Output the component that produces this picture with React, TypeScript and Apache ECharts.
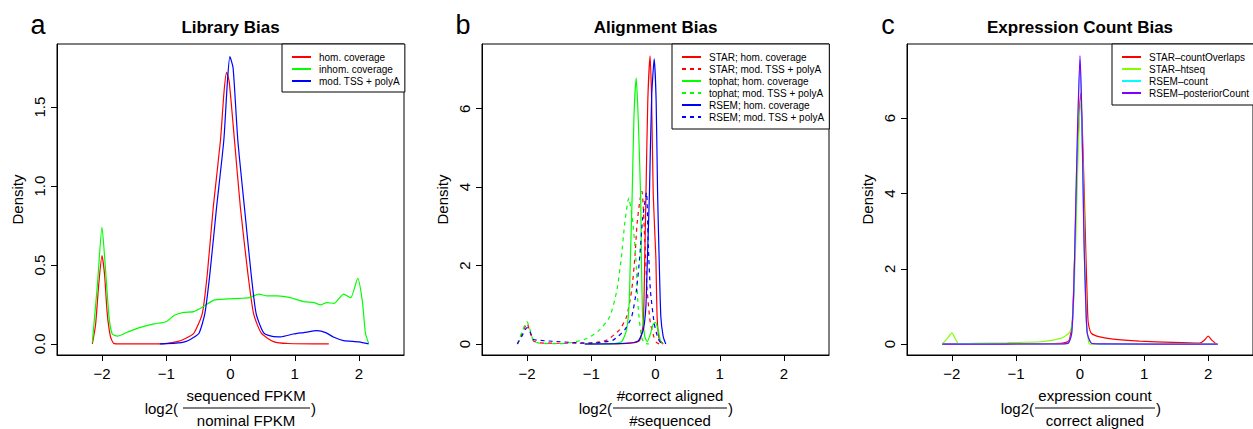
import React, { useEffect, useRef } from "react";
import * as echarts from "echarts";

// ---------- data ----------
const X_TICKS = [-2, -1, 0, 1, 2];
const A_Y_TICKS = [0, 0.5, 1, 1.5];
const B_Y_TICKS = [0, 2, 4, 6];
const C_Y_TICKS = [0, 2, 4, 6];

const TITLES = ["Library Bias", "Alignment Bias", "Expression Count Bias"];
const LETTERS = ["a", "b", "c"];
const NUMERATORS = ["sequenced FPKM", "#correct aligned", "expression count"];
const DENOMINATORS = ["nominal FPKM", "#sequenced", "correct aligned"];

// Panel a: Library Bias
const libHom = [[-2.15,0],[-2.1,0.12],[-2.05,0.38],[-2.0,0.56],[-1.96,0.44],[-1.92,0.2],[-1.87,0.05],[-1.82,0.005],[-1.7,0],[-1.1,0],[-0.83,0.015],[-0.7,0.035],[-0.57,0.068],[-0.44,0.19],[-0.36,0.447],[-0.27,0.86],[-0.156,1.29],[-0.1,1.6],[-0.06,1.72],[-0.02,1.66],[0.062,1.29],[0.155,0.86],[0.27,0.447],[0.36,0.19],[0.48,0.068],[0.67,0.015],[0.9,0.003],[1.53,0]];
const libInhom = [[-2.15,0.01],[-2.07,0.38],[-2.0,0.74],[-1.95,0.5],[-1.89,0.17],[-1.84,0.063],[-1.76,0.05],[-1.61,0.074],[-1.4,0.105],[-1.19,0.127],[-1.0,0.141],[-0.88,0.18],[-0.73,0.2],[-0.57,0.205],[-0.41,0.24],[-0.26,0.278],[-0.05,0.285],[0.16,0.289],[0.29,0.293],[0.44,0.316],[0.57,0.304],[0.73,0.304],[0.93,0.293],[1.14,0.268],[1.3,0.262],[1.4,0.247],[1.5,0.262],[1.61,0.257],[1.76,0.316],[1.87,0.293],[1.98,0.416],[2.05,0.278],[2.1,0.068],[2.15,0.004]];
const libMod = [[-1.1,0],[-0.85,0.005],[-0.7,0.015],[-0.6,0.035],[-0.49,0.068],[-0.4,0.19],[-0.32,0.447],[-0.218,0.86],[-0.104,1.29],[-0.05,1.65],[-0.01,1.82],[0.04,1.75],[0.114,1.29],[0.218,0.86],[0.32,0.447],[0.4,0.19],[0.52,0.068],[0.67,0.046],[0.78,0.045],[0.98,0.063],[1.14,0.072],[1.35,0.084],[1.48,0.072],[1.61,0.042],[1.76,0.021],[2.0,0.013],[2.15,0]];

// Panel b: Alignment Bias
const starHom = [[-1.1,0],[-0.6,0.005],[-0.35,0.03],[-0.245,0.1],[-0.19,0.53],[-0.167,2.23],[-0.15,3.67],[-0.12,6.2],[-0.084,7.35],[-0.06,6.2],[-0.035,3.8],[0.005,2.23],[0.025,0.7],[0.056,0.14],[0.12,0]];
const starMod = [[-2.15,0],[-2.08,0.25],[-2.0,0.52],[-1.95,0.3],[-1.9,0.08],[-1.8,0.03],[-1.5,0.02],[-1.2,0.02],[-0.97,0.03],[-0.76,0.1],[-0.56,0.36],[-0.45,0.7],[-0.37,1.38],[-0.32,2.23],[-0.286,3.08],[-0.24,3.7],[-0.21,3.89],[-0.167,2.65],[-0.13,1.38],[-0.08,0.53],[-0.026,0.19],[0.015,0.04],[0.06,0]];
const tophatHom = [[-1.1,0],[-0.71,0.005],[-0.53,0.06],[-0.45,0.36],[-0.41,1.04],[-0.39,2.23],[-0.365,3.67],[-0.335,5.8],[-0.3,6.79],[-0.27,5.8],[-0.23,3.67],[-0.22,2.23],[-0.2,0.7],[-0.167,0.19],[-0.13,0.06],[-0.08,0.25],[-0.037,0.5],[0,0.55],[0.04,0.36],[0.08,0.06],[0.11,0]];
const tophatMod = [[-2.15,0],[-2.08,0.3],[-2.0,0.57],[-1.95,0.35],[-1.9,0.08],[-1.8,0.02],[-1.5,0.01],[-1.29,0.04],[-1.07,0.14],[-0.87,0.36],[-0.71,0.7],[-0.6,1.38],[-0.53,2.23],[-0.478,3.09],[-0.416,3.72],[-0.36,3.2],[-0.307,2.23],[-0.27,0.95],[-0.22,0.19],[-0.17,0.02],[-0.1,0]];
const rsemHom = [[-1.1,0],[-0.45,0.02],[-0.27,0.08],[-0.19,0.36],[-0.15,0.95],[-0.125,2.23],[-0.095,3.8],[-0.06,6.3],[-0.02,7.27],[0.01,6.2],[0.033,3.8],[0.056,2.23],[0.083,0.7],[0.12,0.19],[0.16,0]];
const rsemMod = [[-2.15,0],[-2.08,0.2],[-2.0,0.42],[-1.95,0.3],[-1.9,0.12],[-1.85,0.1],[-1.6,0.07],[-1.3,0.04],[-1.02,0.02],[-0.9,0.03],[-0.66,0.1],[-0.48,0.36],[-0.37,0.7],[-0.296,1.38],[-0.245,2.23],[-0.2,3.2],[-0.14,3.86],[-0.115,2.65],[-0.08,1.38],[-0.02,0.53],[0.04,0.14],[0.09,0.02],[0.13,0]];

// Panel c: Expression Count Bias
const starCountOverlaps = [[-2.15,0],[-1.5,0.002],[-0.8,0.005],[-0.4,0.01],[-0.25,0.03],[-0.17,0.1],[-0.12,0.6],[-0.08,2.5],[-0.04,5.0],[0.01,6.67],[0.05,5.0],[0.09,2.5],[0.12,0.8],[0.135,0.5],[0.18,0.28],[0.31,0.19],[0.52,0.13],[0.93,0.08],[1.45,0.045],[1.87,0.027],[1.94,0.1],[2.0,0.21],[2.06,0.1],[2.13,0]];
const starHtseq = [[-2.15,0],[-2.07,0.15],[-2.0,0.3],[-1.94,0.12],[-1.9,0.01],[-1.66,0.018],[-1.14,0.035],[-0.62,0.062],[-0.42,0.106],[-0.26,0.18],[-0.156,0.33],[-0.11,0.8],[-0.07,2.5],[-0.03,5.0],[0.01,6.49],[0.05,4.5],[0.08,2.0],[0.1,0.6],[0.13,0.1],[0.156,0],[2.15,0]];
const rsemCount = [[-2.15,0],[-0.3,0.005],[-0.18,0.03],[-0.13,0.28],[-0.1,1.2],[-0.078,2.77],[-0.04,5.5],[0,7.55],[0.03,5.8],[0.062,2.77],[0.09,1.0],[0.114,0.28],[0.18,0.02],[0.3,0.005],[2.15,0]];
const rsemPosterior = [[-2.15,0],[-0.3,0.005],[-0.18,0.03],[-0.13,0.28],[-0.1,1.3],[-0.078,2.77],[-0.04,5.6],[0,7.66],[0.03,6.0],[0.062,2.77],[0.09,1.1],[0.114,0.28],[0.18,0.02],[0.3,0.005],[2.15,0]];

const FONT = "'Liberation Sans', Arial, Helvetica, sans-serif";

const GRIDS = [
  { left: 57, top: 44, width: 347, height: 311 },
  { left: 482, top: 44, width: 347, height: 311 },
  { left: 907, top: 44, width: 346, height: 311 },
];
const Y_RANGES = [
  [-0.07, 1.9],
  [-0.28, 7.65],
  [-0.29, 7.97],
];

const minus = (v: number) => (v < 0 ? "\u2212" + Math.abs(v) : String(v));

function mkSeries(name: string, data: number[][], color: string, idx: number, dashed = false) {
  return {
    name,
    type: "line",
    xAxisIndex: idx,
    yAxisIndex: idx,
    data,
    symbol: "none",
    showSymbol: false,
    smooth: 0.2,
    itemStyle: { color },
    lineStyle: { color, width: 1.2, type: dashed ? [4, 4] : "solid" },
    emphasis: { disabled: true },
  };
}

export default function App() {
  const ref = useRef<HTMLDivElement>(null);
  useEffect(() => {
    document.body.style.margin = "0";
    const chart = echarts.init(ref.current!, undefined, { renderer: "svg" });

    const yTicks = [A_Y_TICKS, B_Y_TICKS, C_Y_TICKS];
    const xAxis = GRIDS.map((_, i) => ({
      type: "value",
      gridIndex: i,
      min: -2.7,
      max: 2.7,
      axisLine: { show: true, onZero: false, lineStyle: { color: "#000", width: 1 } },
      axisTick: { show: true, customValues: X_TICKS, length: 6, lineStyle: { color: "#000" } },
      axisLabel: {
        customValues: X_TICKS,
        formatter: (v: number) => minus(v),
        fontSize: 15,
        color: "#000",
        fontFamily: FONT,
        margin: 11,
      },
      splitLine: { show: false },
    }));
    const yAxis = GRIDS.map((_, i) => ({
      type: "value",
      gridIndex: i,
      min: Y_RANGES[i][0],
      max: Y_RANGES[i][1],
      name: "Density",
      nameLocation: "middle",
      nameRotate: 90,
      nameGap: 32,
      nameTextStyle: { fontSize: 15, color: "#000", fontFamily: FONT },
      axisLine: { show: true, onZero: false, lineStyle: { color: "#000", width: 1 } },
      axisTick: { show: true, customValues: yTicks[i], length: 6, lineStyle: { color: "#000" } },
      axisLabel: {
        customValues: yTicks[i],
        formatter: (v: number) => (i === 0 ? v.toFixed(1) : String(v)),
        rotate: 90,
        fontSize: 15,
        color: "#000",
        fontFamily: FONT,
        margin: 10,
      },
      splitLine: { show: false },
    }));

    const legendBase = {
      orient: "vertical",
      itemWidth: 19,
      itemHeight: 12,
      itemGap: 0,
      borderColor: "#000",
      borderWidth: 1,
      borderRadius: 0,
      backgroundColor: "#fff",
      selectedMode: false,
      itemStyle: { color: "rgba(0,0,0,0)", borderColor: "rgba(0,0,0,0)", borderWidth: 0, opacity: 0 },
      textStyle: { fontSize: 10, color: "#000", fontFamily: FONT, lineHeight: 12, padding: [0, 0, 0, 3] },
    };

    const graphics: any[] = [];
    const fracGeom = [
      { logRight: 178, cx: 246, l1: 183, l2: 310 },
      { logRight: 612, cx: 670, l1: 613, l2: 727 },
      { logRight: 1034, cx: 1095, l1: 1035, l2: 1155 },
    ];
    GRIDS.forEach((g, i) => {
      const f = fracGeom[i];
      graphics.push(
        { type: "text", x: g.left - 19, y: 25, style: { text: LETTERS[i], font: `27px ${FONT}`, fill: "#000", textAlign: "center", textVerticalAlign: "middle" } },
        { type: "text", x: g.left + g.width / 2, y: 27, style: { text: TITLES[i], font: `bold 17px ${FONT}`, fill: "#000", textAlign: "center", textVerticalAlign: "middle" } },
        { type: "text", x: f.logRight, y: 408, style: { text: "log2(", font: `15px ${FONT}`, fill: "#000", textAlign: "right", textVerticalAlign: "middle" } },
        { type: "text", x: f.cx, y: 395, style: { text: NUMERATORS[i], font: `15px ${FONT}`, fill: "#000", textAlign: "center", textVerticalAlign: "middle" } },
        { type: "line", shape: { x1: f.l1, y1: 408, x2: f.l2, y2: 408 }, style: { stroke: "#000", lineWidth: 1 } },
        { type: "text", x: f.cx, y: 420, style: { text: DENOMINATORS[i], font: `15px ${FONT}`, fill: "#000", textAlign: "center", textVerticalAlign: "middle" } },
        { type: "text", x: f.l2 + 1, y: 408, style: { text: ")", font: `15px ${FONT}`, fill: "#000", textAlign: "left", textVerticalAlign: "middle" } }
      );
    });

    chart.setOption({
      animation: false,
      backgroundColor: "#fff",
      grid: GRIDS.map((g) => ({ ...g, show: true, borderColor: "#000", borderWidth: 1, containLabel: false })),
      xAxis,
      yAxis,
      legend: [
        { ...legendBase, left: 282, top: 44, padding: [7, 5, 5, 9], data: ["hom. coverage", "inhom. coverage", "mod. TSS + polyA"] },
        {
          ...legendBase,
          left: 672,
          top: 44,
          padding: [7, 5, 6, 9],
          data: ["STAR; hom. coverage", "STAR; mod. TSS + polyA", "tophat; hom. coverage", "tophat; mod. TSS + polyA", "RSEM; hom. coverage", "RSEM; mod. TSS + polyA"],
        },
        { ...legendBase, left: 1112, top: 44, padding: [7, 5, 6, 9], data: ["STAR\u2013countOverlaps", "STAR\u2013htseq", "RSEM\u2013count", "RSEM\u2013posteriorCount"] },
      ],
      series: [
        mkSeries("hom. coverage", libHom, "#FF0000", 0),
        mkSeries("inhom. coverage", libInhom, "#00FF00", 0),
        mkSeries("mod. TSS + polyA", libMod, "#0000FF", 0),
        mkSeries("STAR; hom. coverage", starHom, "#FF0000", 1),
        mkSeries("STAR; mod. TSS + polyA", starMod, "#FF0000", 1, true),
        mkSeries("tophat; hom. coverage", tophatHom, "#00FF00", 1),
        mkSeries("tophat; mod. TSS + polyA", tophatMod, "#00FF00", 1, true),
        mkSeries("RSEM; hom. coverage", rsemHom, "#0000FF", 1),
        mkSeries("RSEM; mod. TSS + polyA", rsemMod, "#0000FF", 1, true),
        mkSeries("STAR\u2013countOverlaps", starCountOverlaps, "#FF0000", 2),
        mkSeries("STAR\u2013htseq", starHtseq, "#80FF00", 2),
        mkSeries("RSEM\u2013count", rsemCount, "#00FFFF", 2),
        mkSeries("RSEM\u2013posteriorCount", rsemPosterior, "#8000FF", 2),
      ],
      graphic: graphics,
    });
    return () => chart.dispose();
  }, []);
  return <div ref={ref} style={{ position: "absolute", left: 0, top: 0, width: 1253, height: 429 }} />;
}
